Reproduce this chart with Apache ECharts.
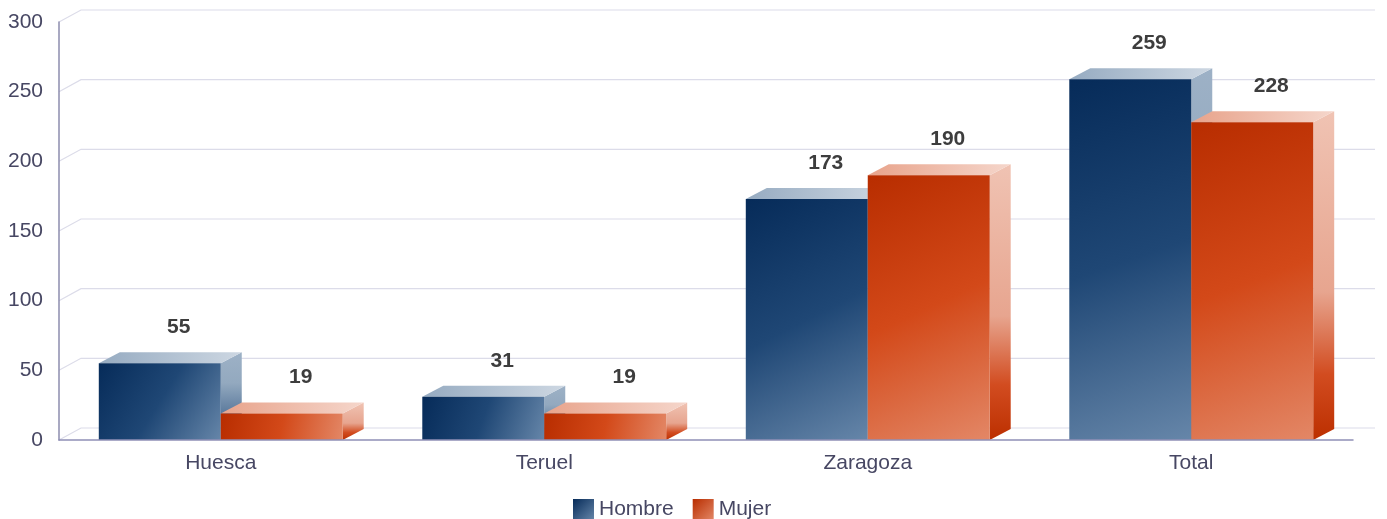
<!DOCTYPE html>
<html>
<head>
<meta charset="utf-8">
<script src="https://cdn.jsdelivr.net/npm/echarts@6/dist/echarts.min.js"></script>
<style>
html,body{margin:0;padding:0;background:#fff;}
#chart{width:1387px;height:519px;}
</style>
</head>
<body>
<div id="chart"></div>
<script>
var categories = ['Huesca', 'Teruel', 'Zaragoza', 'Total'];
var hombre = [55, 31, 173, 259];
var mujer = [19, 19, 190, 228];
var yTicks = [0, 50, 100, 150, 200, 250, 300];
var seriesNames = ['Hombre', 'Mujer'];

var chart = echarts.init(document.getElementById('chart'));
var G = echarts.graphic;
var WALL_DX = 22, WALL_DY = -12;
var BAR_DX = 21, BAR_DY = -11;
var FONT = '"Liberation Sans", Arial, Helvetica, sans-serif';

var styles = [
  {
    front: function(){ return new G.LinearGradient(0,0,1,1,[{offset:0,color:'#062b59'},{offset:0.5,color:'#1f4775'},{offset:1,color:'#6686a9'}]); },
    top: function(){ return new G.LinearGradient(0,0,1,0,[{offset:0,color:'#96abc1'},{offset:1,color:'#cdd7e2'}]); },
    side: function(){ return new G.LinearGradient(0,0,0,1,[{offset:0,color:'#9db1c6'},{offset:0.35,color:'#93a9bf'},{offset:1,color:'#2a507e'}]); },
    legend: new G.LinearGradient(0,0,1,1,[{offset:0,color:'#062b59'},{offset:1,color:'#6686a9'}])
  },
  {
    front: function(){ return new G.LinearGradient(0,0,1,1,[{offset:0,color:'#b82d00'},{offset:0.5,color:'#d34919'},{offset:1,color:'#e38766'}]); },
    top: function(){ return new G.LinearGradient(0,0,1,0,[{offset:0,color:'#e8a38b'},{offset:1,color:'#f5d6cb'}]); },
    side: function(){ return new G.LinearGradient(0,0,0,1,[{offset:0,color:'#f0c3b3'},{offset:0.55,color:'#e7a58f'},{offset:0.8,color:'#d24c20'},{offset:1,color:'#bc2f00'}]); },
    legend: new G.LinearGradient(0,0,1,1,[{offset:0,color:'#b82d00'},{offset:1,color:'#e38766'}])
  }
];

function barRenderer(idx) {
  return function(params, api) {
    var cat = api.value(0), v = api.value(1);
    var base = api.coord([cat, 0]);
    var top = api.coord([cat, v]);
    var band = api.size([1, 0])[0];
    var bw = band * 0.377;
    var x0 = idx === 0 ? base[0] - bw : base[0];
    var x1 = x0 + bw;
    var yT = top[1], yB = base[1];
    var st = styles[idx];
    return {
      type: 'group',
      children: [
        {type:'polygon', shape:{points:[[x1,yT],[x1+BAR_DX,yT+BAR_DY],[x1+BAR_DX,yB+BAR_DY],[x1,yB]]}, style:{fill:st.side()}},
        {type:'polygon', shape:{points:[[x0,yT],[x0+BAR_DX,yT+BAR_DY],[x1+BAR_DX,yT+BAR_DY],[x1,yT]]}, style:{fill:st.top()}},
        {type:'rect', shape:{x:x0, y:yT, width:bw, height:yB-yT}, style:{fill:st.front()}},
        {type:'text', x:(x0+x1)/2 + 19, y:yT - 36, style:{text:String(v), fill:'#3d3d3d', font:'bold 21px ' + FONT, align:'center', verticalAlign:'middle'}}
      ]
    };
  };
}

function wallRenderer(params, api) {
  var cs = params.coordSys;
  var x0 = cs.x, x1 = cs.x + cs.width;
  var children = [];
  yTicks.forEach(function(t) {
    var y = api.coord([0, t])[1];
    children.push({type:'polyline', shape:{points:[[x0, y],[x0+WALL_DX, y+WALL_DY],[x1+WALL_DX, y+WALL_DY]]}, style:{stroke:'#dcdce9', lineWidth:1.2, fill:null}});
  });
  return {type:'group', children: children};
}

var option = {
  animation: false,
  grid: {left: 59, right: 34, top: 22, bottom: 79},
  legend: {
    data: seriesNames,
    left: 568, top: 494,
    itemWidth: 21, itemHeight: 21, itemGap: 19,
    icon: 'rect',
    textStyle: {fontSize: 21, color: '#474763', fontFamily: FONT}
  },
  xAxis: {
    type: 'category',
    data: categories,
    axisLine: {lineStyle: {color: '#9090b6', width: 1.5}},
    axisTick: {show: false},
    axisLabel: {fontSize: 21, color: '#474763', fontFamily: FONT, margin: 13},
    splitLine: {show: false},
    z: 5
  },
  yAxis: {
    type: 'value',
    min: 0, max: 300, interval: 50,
    axisLine: {show: true, lineStyle: {color: '#8c8cae', width: 1.5}},
    axisTick: {show: false},
    axisLabel: {fontSize: 21, color: '#474763', fontFamily: FONT, margin: 16},
    splitLine: {show: false},
    z: 5
  },
  series: [
    {type:'custom', name:'wall', renderItem: wallRenderer, data:[[0, 0]], silent:true, z:1, legendHoverLink:false},
    {type:'custom', name: seriesNames[0], renderItem: barRenderer(0), itemStyle:{color: styles[0].legend},
     data: categories.map(function(c, i){ return [i, hombre[i]]; }), z:2},
    {type:'custom', name: seriesNames[1], renderItem: barRenderer(1), itemStyle:{color: styles[1].legend},
     data: categories.map(function(c, i){ return [i, mujer[i]]; }), z:3}
  ]
};
chart.setOption(option);
</script>
</body>
</html>
